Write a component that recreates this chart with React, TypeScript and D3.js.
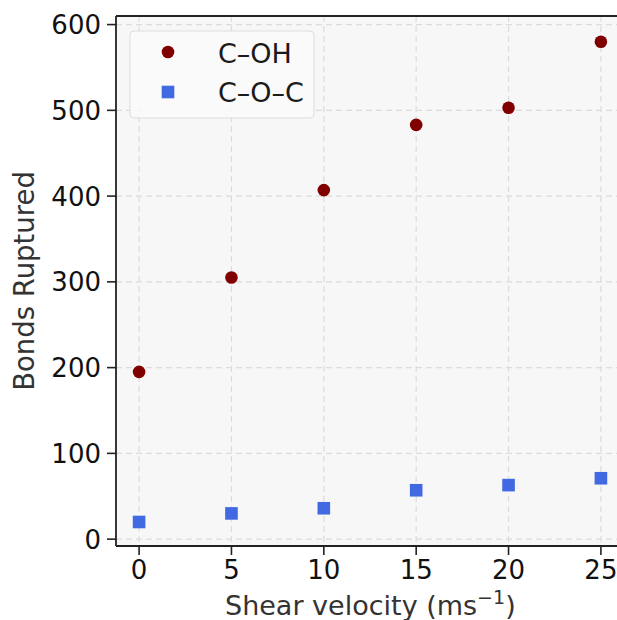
import React from "react";
import * as d3 from "d3";

const velocities = [0, 5, 10, 15, 20, 25];
const cohValues = [195, 305, 407, 483, 503, 580];
const cocValues = [20, 30, 36, 57, 63, 71];
const xTicks = [0, 5, 10, 15, 20, 25];
const yTicks = [0, 100, 200, 300, 400, 500, 600];

const W = 617;
const H = 620;
const left = 116;
const right = 624;
const top = 16;
const bottom = 546;
const font = "DejaVu Sans, sans-serif";

export default function App() {
  const x = d3.scaleLinear().domain([-1.25, 26.25]).range([left, right]);
  const y = d3.scaleLinear().domain([-8, 610]).range([bottom, top]);

  return (
    <svg width={W} height={H} style={{ position: "absolute", left: 0, top: 0 }}>
      <rect x={0} y={0} width={W} height={H} fill="#fff" />
      <rect x={left} y={top} width={right - left} height={bottom - top} fill="#f7f7f7" />

      {/* grid */}
      {xTicks.map((t) => (
        <line key={"gx" + t} x1={x(t)} x2={x(t)} y1={top} y2={bottom}
          stroke="#dcdcdc" strokeWidth={1.2} strokeDasharray="6,4" />
      ))}
      {yTicks.map((t) => (
        <line key={"gy" + t} x1={left} x2={right} y1={y(t)} y2={y(t)}
          stroke="#dcdcdc" strokeWidth={1.2} strokeDasharray="6,4" />
      ))}

      {/* points */}
      {velocities.map((v, i) => (
        <circle key={"c" + i} cx={x(v)} cy={y(cohValues[i])} r={6.3} fill="#800000" />
      ))}
      {velocities.map((v, i) => (
        <rect key={"s" + i} x={x(v) - 6.3} y={y(cocValues[i]) - 6.3} width={12.6} height={12.6} fill="#4169e1" />
      ))}

      {/* spines */}
      <line x1={left} x2={left} y1={top} y2={bottom} stroke="#222" strokeWidth={1.8} />
      <line x1={left} x2={right} y1={bottom} y2={bottom} stroke="#222" strokeWidth={1.8} />
      <line x1={left} x2={right} y1={top} y2={top} stroke="#222" strokeWidth={1.8} />

      {/* ticks */}
      {xTicks.map((t) => (
        <g key={"tx" + t}>
          <line x1={x(t)} x2={x(t)} y1={bottom} y2={bottom + 9} stroke="#222" strokeWidth={1.6} />
          <text x={x(t)} y={bottom + 33} textAnchor="middle" fontSize={26} fontFamily={font} fill="#111">{t}</text>
        </g>
      ))}
      {yTicks.map((t) => (
        <g key={"ty" + t}>
          <line x1={left - 9} x2={left} y1={y(t)} y2={y(t)} stroke="#222" strokeWidth={1.6} />
          <text x={left - 15} y={y(t) + 9.5} textAnchor="end" fontSize={26} fontFamily={font} fill="#111">{t}</text>
        </g>
      ))}

      {/* labels */}
      <text x={225} y={615} fontSize={27} fontFamily={font} fill="#333">
        Shear velocity (ms<tspan dy={-11} fontSize={19}>−1</tspan><tspan dy={11}>)</tspan>
      </text>
      <text transform={`translate(34, ${(top + bottom) / 2}) rotate(-90)`} textAnchor="middle" fontSize={27.5} fontFamily={font} fill="#333">
        Bonds Ruptured
      </text>

      {/* legend */}
      <g transform="translate(130, 31)">
        <rect x={0} y={0} width={184} height={87} rx={4} fill="#fafafa" fillOpacity={0.9} stroke="#dddddd" strokeWidth={1} />
        <circle cx={38} cy={21} r={6.3} fill="#800000" />
        <text x={88} y={32} fontSize={27} fontFamily={font} fill="#1a1a1a">C–OH</text>
        <rect x={38 - 6.3} y={61 - 6.3} width={12.6} height={12.6} fill="#4169e1" />
        <text x={88} y={71} fontSize={27} fontFamily={font} fill="#1a1a1a">C–O–C</text>
      </g>
    </svg>
  );
}
